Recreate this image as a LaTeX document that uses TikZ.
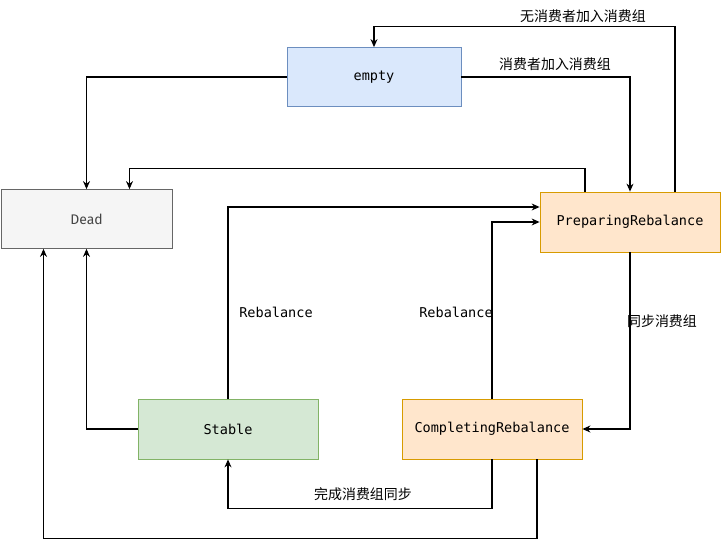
\documentclass[tikz,border=0pt]{standalone}
\usepackage{fontspec}
\setmonofont{DejaVu Sans Mono}
\newfontfamily\cjk{Noto Sans CJK SC}
\newfontfamily\deadfont{Fira Sans}
\usetikzlibrary{arrows.meta}
\definecolor{blueF}{HTML}{DAE8FC}\definecolor{blueD}{HTML}{6C8EBF}
\definecolor{grayF}{HTML}{F5F5F5}\definecolor{grayD}{HTML}{666666}
\definecolor{grayT}{HTML}{444444}
\definecolor{orangeF}{HTML}{FFE6CC}\definecolor{orangeD}{HTML}{D79B00}
\definecolor{greenF}{HTML}{D5E8D4}\definecolor{greenD}{HTML}{82B366}
\begin{document}
\begin{tikzpicture}[x=1bp,y=-1bp,
    state/.style={draw, line width=0.8bp, minimum width=180bp, minimum height=60bp, font=\ttfamily\fontsize{13.6}{15}\selectfont},
    arr/.style={draw, line width=1.1bp, -{Stealth[length=8bp,width=7bp]}},
    lbl/.style={font=\cjk\fontsize{14}{16}\selectfont}]
      \useasboundingbox (0,0) rectangle (721,547);
      % states
      \node[state, fill=blueF, draw=blueD, minimum width=174bp, minimum height=59bp] (empty) at (374,77) {empty};
      \node[state, fill=grayF, draw=grayD, text=grayT, font=\deadfont\fontsize{14}{16}\selectfont, minimum width=171bp, minimum height=59bp] (dead) at (86.5,219) {Dead};
      \node[state, fill=orangeF, draw=orangeD] (prep) at (630,222) {PreparingRebalance};
      \node[state, fill=greenF, draw=greenD] (stable) at (228,429) {Stable};
      \node[state, fill=orangeF, draw=orangeD] (comp) at (492,429) {CompletingRebalance};
      % transitions
      \draw[arr] (empty.west) -| (dead.north);
      \draw[arr] (empty.east) -| (prep.north);
      \draw[arr] ([xshift=45bp]prep.north) -- ++(0,-165) -| (empty.north);
      \draw[arr] ([xshift=-45bp]prep.north) -- ++(0,-23) -| ([xshift=43bp]dead.north);
      \draw[arr] (prep.south) |- (comp.east);
      \draw[arr] (stable.north) |- ([yshift=15bp]prep.west);
      \draw[arr] (comp.north) |- (prep.west);
      \draw[arr] (stable.west) -| (dead.south);
      \draw[arr] (comp.south) -- ++(0,49) -| (stable.south);
      \draw[arr] ([xshift=45bp]comp.south) -- ++(0,79) -| ([xshift=-43bp]dead.south);
      % labels
      \node[lbl] (l1) at (583,16) {无消费者加入消费组};
      \node[lbl] (l2) at (555,64) {消费者加入消费组};
      \node[lbl] (l3) at (662,321) {同步消费组};
      \node[lbl] (l4) at (363,494) {完成消费组同步};
      \node[font=\ttfamily\fontsize{13.6}{15}\selectfont] (r1) at (276,312) {Rebalance};
      \node[font=\ttfamily\fontsize{13.6}{15}\selectfont] (r2) at (456,312) {Rebalance};
\end{tikzpicture}
\end{document}
